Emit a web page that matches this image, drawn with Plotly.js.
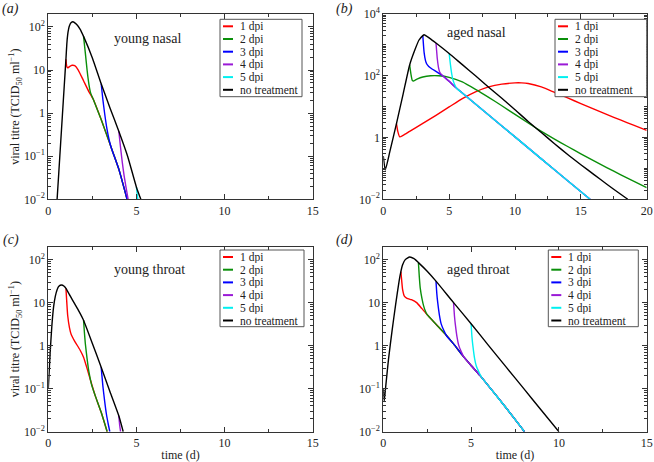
<!DOCTYPE html>
<html><head><meta charset="utf-8">
<script src="https://cdn.plot.ly/plotly-3.0.1.min.js"></script>
<style>html,body{margin:0;padding:0;background:#fff}</style>
</head><body><div id="chart" style="width:654px;height:462px"></div>
<script>
// ---------- labels ----------
const seriesLabels = ['1 dpi','2 dpi','3 dpi','4 dpi','5 dpi','no treatment'];
const seriesColors = ['#ff0000','#0a8f0a','#0000ff','#9a1ad6','#00f0f0','#000000'];
const panelTitles = ['young nasal','aged nasal','young throat','aged throat'];
const panelLetters = ['(a)','(b)','(c)','(d)'];
const xTicks15 = [0,5,10,15];
const xTicks20 = [0,5,10,15,20];
const yTickVals = [0.01,0.1,1,10,100];
const yTickText = ['10<sup>−2</sup>','10<sup>−1</sup>','1','10','10<sup>2</sup>'];
const yTickValsB = [0.01,1,100,10000];
const yTickTextB = ['10<sup>−2</sup>','1','10<sup>2</sup>','10<sup>4</sup>'];

// ---------- (a) young nasal ----------
const yn1_t = [1.0,1.05,1.1,1.2,1.35,1.5,1.7,2.0,2.3,2.55,3.0,3.5,4.0,4.47];
const yn1_v = [17.8,12.0,11.2,12.0,12.9,12.6,10,5.62,3.16,2.09,0.708,0.191,0.0501,0.01];
const yn2_t = [2.0,2.1,2.2,2.3,2.4,2.55,3.0,3.5,4.0,4.47];
const yn2_v = [60.3,25.1,10,4.79,2.95,2.09,0.708,0.191,0.0501,0.01];
const yn3_t = [3.0,3.1,3.2,3.3,3.4,3.5,3.6,4.0,4.47];
const yn3_v = [4.79,2.0,0.955,0.501,0.302,0.2,0.145,0.0501,0.01];
const yn4_t = [4.0,4.1,4.2,4.3,4.4,4.53];
const yn4_v = [0.38,0.158,0.0708,0.0355,0.02,0.01];
const yn5_t = [5.0,5.05,5.08];
const yn5_v = [0.0191,0.0126,0.01];
const ynN_t = [0.5,0.6,0.7,0.8,0.9,1.0,1.05,1.1,1.15,1.2,1.3,1.4,1.6,1.8,2.0,2.5,3.0,3.5,4.0,4.5,5.0,5.25];
const ynN_v = [0.01,0.0447,0.2,0.891,3.98,17.8,39.8,66.1,89.1,107,126,132,115,89.1,60.3,19.1,4.79,1.32,0.38,0.1,0.0191,0.01];

// ---------- (b) aged nasal ----------
const an1_t = [1.0,1.1,1.25,1.5,2,3,4,5,6,7,8,9,10,10.5,11,12,13,14,15,16,17,18,19,20];
const an1_v = [2.82,1.58,1.05,1.17,1.58,2.88,5.25,9.77,18.2,30.2,43.7,53.7,58.9,58.9,56.2,43.7,28.8,19.1,12.6,8.32,5.5,3.72,2.51,1.7];
const an2_t = [2.0,2.1,2.2,2.3,2.6,3,3.6,4.2,5,6,7,8,9,10,11,12,13,14,15,16,17,18,19,20];
const an2_v = [224,112,70.8,67.6,79.4,91.2,100,100,89.1,63.1,36.3,20,10.7,5.62,2.95,1.58,0.891,0.513,0.295,0.174,0.105,0.0631,0.0389,0.024];
const an3_t = [3.0,3.05,3.1,3.2,3.3,3.45,3.7,4.0,4.5,5.0,5.5,6,8,10,12,14,15.7];
const an3_v = [1995,1000,562,316,240,200,166,138,100,66.1,41.7,27.5,5.37,1.05,0.204,0.0398,0.01];
const an4_t = [4.0,4.05,4.1,4.2,4.3,4.5,5.0,5.5,6,8,10,12,14,15.7];
const an4_v = [1148,631,355,178,126,100,66.1,41.7,27.5,5.37,1.05,0.204,0.0398,0.01];
const an5_t = [5.0,5.1,5.2,5.3,5.45,5.6,6,8,10,12,14,15.7];
const an5_v = [525,224,112,70.8,47.9,38,27.5,5.37,1.05,0.204,0.0398,0.01];
const anN_t = [0,0.15,0.5,1.0,1.5,2.0,2.4,2.7,3.0,3.1,3.5,4,5,6,7,8,9,10,11,12,13,14,15,16,17,18,18.56];
const anN_v = [0.251,0.0891,0.355,2.82,25.1,224,692,1413,1995,2138,1660,1148,525,229,100,42.7,18.6,7.94,3.31,1.45,0.631,0.282,0.132,0.0631,0.0302,0.0148,0.01];

// ---------- (c) young throat ----------
const yt1_t = [1.0,1.05,1.1,1.2,1.3,1.5,1.8,2.0,2.25,2.5,2.65,3.0,3.34];
const yt1_v = [21.4,10,5.01,2.63,1.82,1.26,0.794,0.537,0.251,0.112,0.0708,0.0282,0.01];
const yt2_t = [2.0,2.05,2.1,2.2,2.3,2.45,2.65,3.0,3.34];
const yt2_v = [3.89,2.0,1.12,0.501,0.251,0.126,0.0708,0.0282,0.01];
const yt3_t = [3.0,3.1,3.2,3.3,3.4,3.49];
const yt3_v = [0.316,0.112,0.0501,0.0251,0.0151,0.01];
const yt4_t = [4.0,4.05,4.1];
const yt4_v = [0.0234,0.0141,0.01];
const yt5_t = [];
const yt5_v = [];
const ytN_t = [0,0.1,0.2,0.3,0.4,0.5,0.6,0.75,0.9,1.0,1.25,1.5,1.75,2.0,2.5,3.0,3.5,4.0,4.25];
const ytN_v = [0.1,0.631,2.82,7.94,14.1,20,24,25.7,24,21.4,14.1,9.33,6.17,3.89,1.12,0.316,0.0851,0.0234,0.01];

// ---------- (d) aged throat ----------
const at1_t = [1.0,1.05,1.1,1.2,1.35,1.6,1.9,2.2,2.5,3.0,3.5,4.0,4.5,5.0,5.5,6,7,8,8.03];
const at1_v = [52.5,31.6,20,14.1,12.6,11.7,10,7.24,5.25,3.16,1.91,1.1,0.603,0.347,0.204,0.115,0.0355,0.0105,0.01];
const at2_t = [2.0,2.05,2.1,2.2,2.3,2.4,2.5,3.0,3.5,4.0,4.5,5.0,5.5,6,7,8,8.03];
const at2_v = [85.1,39.8,22.4,12.6,8.32,6.31,5.25,3.16,1.91,1.1,0.603,0.347,0.204,0.115,0.0355,0.0105,0.01];
const at3_t = [3.0,3.05,3.1,3.2,3.3,3.45,3.6,4.0,4.5,5.0,5.5,6,7,8,8.03];
const at3_v = [31.6,15.8,10,5.01,3.16,2.24,1.7,1.1,0.603,0.347,0.204,0.115,0.0355,0.0105,0.01];
const at4_t = [4.0,4.05,4.1,4.2,4.3,4.45,4.6,5.0,5.5,6,7,8,8.03];
const at4_v = [10,5.01,3.16,1.58,1,0.708,0.537,0.347,0.204,0.115,0.0355,0.0105,0.01];
const at5_t = [5.0,5.05,5.1,5.2,5.3,5.45,5.6,6,7,8,8.03];
const at5_v = [3.24,1.58,1,0.501,0.331,0.24,0.182,0.115,0.0355,0.0105,0.01];
const atN_t = [0,0.05,0.15,0.3,0.5,0.7,0.9,1.0,1.1,1.25,1.5,1.75,2.0,2.5,3.0,4.0,5.0,6,7,8,9,10];
const atN_v = [0.1,0.0501,0.126,0.501,2.24,8.91,31.6,52.5,75.9,100,115,105,85.1,53.7,31.6,10,3.24,1,0.316,0.1,0.0316,0.01];

const panelSeries = [
  [[yn1_t,yn1_v],[yn2_t,yn2_v],[yn3_t,yn3_v],[yn4_t,yn4_v],[yn5_t,yn5_v],[ynN_t,ynN_v]],
  [[an1_t,an1_v],[an2_t,an2_v],[an3_t,an3_v],[an4_t,an4_v],[an5_t,an5_v],[anN_t,anN_v]],
  [[yt1_t,yt1_v],[yt2_t,yt2_v],[yt3_t,yt3_v],[yt4_t,yt4_v],[yt5_t,yt5_v],[ytN_t,ytN_v]],
  [[at1_t,at1_v],[at2_t,at2_v],[at3_t,at3_v],[at4_t,at4_v],[at5_t,at5_v],[atN_t,atN_v]]
];

// ---------- layout geometry (pixels) ----------
const W = 654, H = 462;
const px = v => v / W, py = v => 1 - v / H;
const FONT = 'Liberation Serif';
const geom = [
  {x0:48.3, x1:312.7, y0:14, y1:199.3, box:[220,302,19.3,96.7], lab:[10,9], tit:[147,39]},
  {x0:383.3, x1:646.7, y0:14, y1:199.3, box:[555,646.7,19.3,96.7], lab:[344,9], tit:[476,33]},
  {x0:48.3, x1:312.7, y0:246.7, y1:431.7, box:[220,304,250,326.7], lab:[11,240], tit:[149,269]},
  {x0:383.3, x1:646.7, y0:246.7, y1:431.7, box:[548.3,638.3,250,326.7], lab:[344,240], tit:[478,269]}
];

const traces = [];
panelSeries.forEach((ser, p) => {
  const sfx = p === 0 ? '' : String(p + 1);
  ser.forEach((s, i) => {
    traces.push({
      type:'scatter', mode:'lines', x:s[0], y:s[1],
      xaxis:'x'+sfx, yaxis:'y'+sfx, name:seriesLabels[i], showlegend:false,
      line:{color:seriesColors[i], width:1.4, shape:'spline', smoothing:0.5},
      hoverinfo:'skip'
    });
  });
});

const axCommon = {
  showline:true, linecolor:'#333', linewidth:1, mirror:'ticks',
  ticks:'inside', ticklen:5, tickwidth:1, tickcolor:'#333',
  showgrid:false, zeroline:false,
  tickfont:{family:FONT, size:12, color:'#222'}
};

const layout = {
  width:W, height:H, autosize:false,
  margin:{l:0,r:0,t:0,b:0},
  paper_bgcolor:'#fff', plot_bgcolor:'#fff',
  showlegend:false,
  font:{family:FONT, size:12, color:'#222'},
  shapes:[], annotations:[]
};

geom.forEach((g, p) => {
  const sfx = p === 0 ? '' : String(p + 1);
  const isB = p === 1;
  const xa = Object.assign({}, axCommon, {
    domain:[px(g.x0), px(g.x1)], anchor:'y'+sfx,
    range: isB ? [0,20] : [0,15],
    tickmode:'array', tickvals: isB ? xTicks20 : xTicks15,
    minor:{ticks:'inside', ticklen:3, tickcolor:'#333', dtick:2.5, tick0:0, showgrid:false}
  });
  if (p >= 2) xa.title = {text:'time (d)', font:{family:FONT, size:12, color:'#222'}, standoff:2};
  layout['xaxis'+sfx] = xa;
  const ya = Object.assign({}, axCommon, {
    domain:[py(g.y1), py(g.y0)], anchor:'x'+sfx, type:'log',
    range: isB ? [-2,4] : [-2,2.3],
    tickmode:'array', tickvals: isB ? yTickValsB : yTickVals, ticktext: isB ? yTickTextB : yTickText,
    minor:{ticks:'inside', ticklen:3, tickcolor:'#333', dtick:'D1', showgrid:false}
  });
  if (p === 0 || p === 2) ya.title = {text:'viral titre (TCID<sub>50</sub> ml<sup>−1</sup>)', font:{family:FONT, size:12, color:'#222'}, standoff:1};
  layout['yaxis'+sfx] = ya;
  layout.annotations.push({xref:'paper', yref:'paper', x:px(g.lab[0]), y:py(g.lab[1]), text:'<i>'+panelLetters[p]+'</i>',
    showarrow:false, xanchor:'center', yanchor:'middle', font:{family:FONT, size:14, color:'#222'}});
  layout.annotations.push({xref:'paper', yref:'paper', x:px(g.tit[0]), y:py(g.tit[1]), text:panelTitles[p],
    showarrow:false, xanchor:'center', yanchor:'middle', font:{family:FONT, size:14, color:'#222'}});
  const b = g.box;
  layout.shapes.push({type:'rect', xref:'paper', yref:'paper', x0:px(b[0]), x1:px(b[1]), y0:py(b[3]), y1:py(b[2]),
    line:{color:'#555', width:1}, fillcolor:'#fff', layer:'above'});
  seriesLabels.forEach((lab, i) => {
    const yc = b[2] + 7 + i * 12.7;
    layout.shapes.push({type:'line', xref:'paper', yref:'paper', x0:px(b[0]+3), x1:px(b[0]+13), y0:py(yc), y1:py(yc),
      line:{color:seriesColors[i], width:2}, layer:'above'});
    layout.annotations.push({xref:'paper', yref:'paper', x:px(b[0]+18), y:py(yc), text:lab, showarrow:false,
      xanchor:'left', yanchor:'middle', height:12, font:{family:FONT, size:11.5, color:'#222'}});
  });
});

Plotly.newPlot('chart', traces, layout, {staticPlot:true, displayModeBar:false});
</script></body></html>
